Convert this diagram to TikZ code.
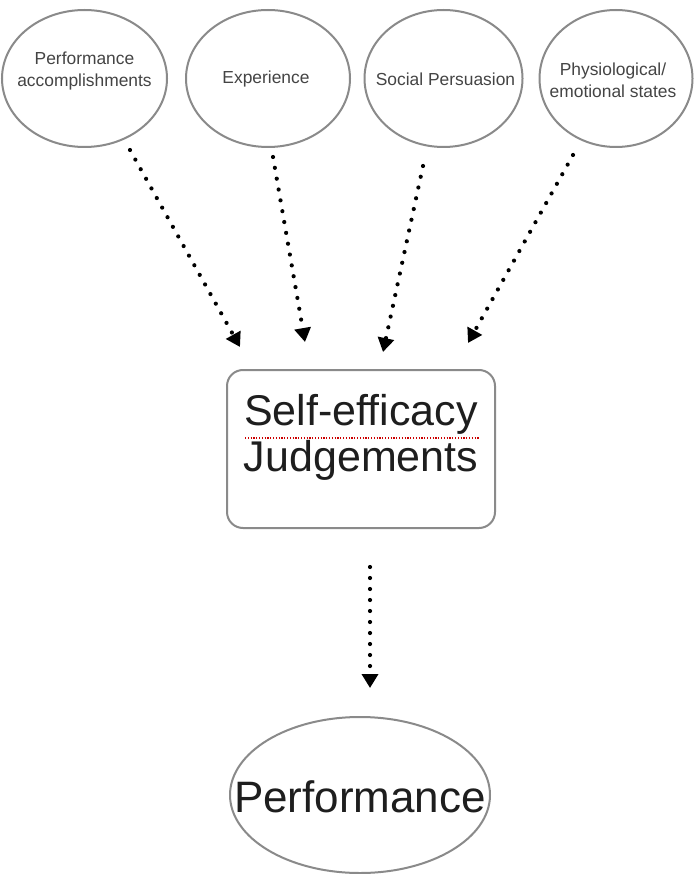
\documentclass[tikz,border=0pt]{standalone}
\usepackage{fontspec}
\setmainfont{Liberation Sans}
\usetikzlibrary{shapes.geometric,arrows.meta}
\definecolor{rim}{HTML}{8A8A8A}
\definecolor{smalltxt}{HTML}{444444}
\definecolor{bigtxt}{HTML}{1E1E1E}
\begin{document}
\begin{tikzpicture}[x=1pt,y=-1pt,
  source/.style={ellipse,draw=rim,line width=2pt,inner sep=0pt,minimum height=137pt},
  smalltext/.style={align=center,text=smalltxt,inner sep=0pt,
    font=\fontsize{17.4}{22}\selectfont},
  judgebox/.style={draw=rim,line width=2pt,rounded corners=16pt,inner sep=0pt,
    minimum width=268pt,minimum height=158pt},
  bigtext/.style={align=center,text=bigtxt,inner sep=0pt,
    font=\fontsize{43}{46}\selectfont},
  dotarrow/.style={line width=4.2pt,line cap=round,dash pattern=on 0pt off 11pt,
    -{Triangle[length=14pt,width=16pt]}}
]
\useasboundingbox (0,0) rectangle (693,874);
\fill[white] (0,0) rectangle (693,874);

% source ellipses
\node[source,minimum width=165pt] (perfacc) at (84.5,78.5) {};
\node[smalltext] (perfacct) at (84.5,71) {Performance\\accomplishments};
\node[source,minimum width=164pt] (exper) at (268,78.5) {};
\node[smalltext] (expert) at (266,79) {Experience};
\node[source,minimum width=158pt] (social) at (443.5,78.5) {};
\node[smalltext] (socialt) at (445.5,79) {Social Persuasion};
\node[source,minimum width=153pt] (physio) at (616,78.5) {};
\node[smalltext] (physiot) at (613,80) {Physiological/\\emotional states};

% judgement box
\node[judgebox] (judge) at (361,449) {};
\node[bigtext] (judget) at (361,437) {Self-efficacy\\Judgements};
\coordinate (sqA) at (245,438);
\coordinate (sqB) at (480,438);
\draw[red!80!black,line width=1.2pt,dash pattern=on 1.2pt off 1.6pt] (sqA) -- (sqB);

% performance ellipse
\node[ellipse,draw=rim,line width=2pt,inner sep=0pt,minimum width=260pt,minimum height=156pt] (perf) at (360,795) {};
\node[text=bigtxt,inner sep=0pt,font=\fontsize{44}{46}\selectfont] (perft) at (360,797) {Performance};

% connector end points
\coordinate (a1s) at (130,150); \coordinate (a1e) at (240,347);
\coordinate (a2s) at (273,157); \coordinate (a2e) at (305,342);
\coordinate (a3s) at (423,166); \coordinate (a3e) at (383,352);
\coordinate (a4s) at (573,155); \coordinate (a4e) at (468,343);
\coordinate (a5s) at (370,567); \coordinate (a5e) at (370,688);

\draw[dotarrow] (a1s) -- (a1e);
\draw[dotarrow] (a2s) -- (a2e);
\draw[dotarrow] (a3s) -- (a3e);
\draw[dotarrow] (a4s) -- (a4e);
\draw[dotarrow] (a5s) -- (a5e);
\end{tikzpicture}
\end{document}
